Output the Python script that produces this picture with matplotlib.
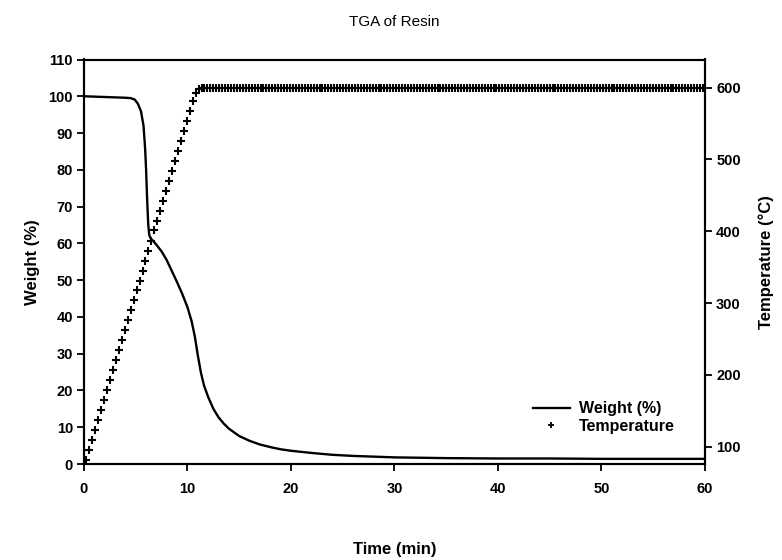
import matplotlib
matplotlib.use("Agg")
import matplotlib.pyplot as plt
from matplotlib.lines import Line2D

plt.rcParams['font.family'] = ['Liberation Sans', 'DejaVu Sans']

# ---- data ----
weight_time = [0.0, 1.0, 2.0, 3.0, 4.0, 4.5, 4.9, 5.2, 5.5, 5.75, 5.9, 6.0, 6.1, 6.2, 6.3,
               6.45, 6.7, 7.0, 7.5, 8.0, 8.5, 9.0, 9.5, 10.0, 10.4, 10.7, 11.0, 11.3, 11.6,
               12.0, 12.5, 13.0, 13.5, 14.0, 15.0, 16.0, 17.0, 18.0, 19.0, 20.0, 22.0, 24.0,
               26.0, 28.0, 30.0, 35.0, 40.0, 45.0, 50.0, 55.0, 60.0]
weight_pct = [100.0, 99.9, 99.8, 99.7, 99.6, 99.5, 99.1, 98.0, 96.0, 92.0, 86.0, 80.0, 72.0,
              65.5, 62.3, 61.3, 60.6, 59.6, 57.8, 55.4, 52.4, 49.4, 46.2, 42.6, 38.8, 34.8,
              29.5, 24.8, 21.3, 18.2, 15.0, 12.7, 11.0, 9.6, 7.6, 6.3, 5.3, 4.6, 4.0, 3.6,
              3.0, 2.5, 2.2, 2.0, 1.8, 1.6, 1.5, 1.5, 1.4, 1.4, 1.4]

# temperature logged every ~0.285 min, ramp then isothermal hold
sample_start_min = 0.24
sample_interval_min = 0.285
temp_ramp = [82, 96, 110, 124, 137, 151, 165, 179, 193, 207, 221, 234, 248, 262, 276, 290,
             304, 318, 331, 345, 359, 373, 387, 401, 414, 428, 442, 456, 470, 484, 498, 511,
             525, 539, 553, 567, 581, 593, 598]
hold_temp = 600.0
n_hold = 171
temp_values = temp_ramp + [hold_temp] * n_hold
temp_time = [round(sample_start_min + sample_interval_min * i, 3) for i in range(len(temp_values))]

x_ticks = [0, 10, 20, 30, 40, 50, 60]
left_ticks = [0, 10, 20, 30, 40, 50, 60, 70, 80, 90, 100, 110]
right_ticks = [100, 200, 300, 400, 500, 600]

# ---- figure ----
fig = plt.figure(figsize=(7.82, 5.6), dpi=100)
ax = fig.add_axes([84/782, 1-464/560, (705-84)/782, (464-59.5)/560])
ax2 = ax.twinx()

ln, = ax.plot(weight_time, weight_pct, color='black', lw=1.7, zorder=3)
mk, = ax2.plot(temp_time, temp_values, ls='none', marker='+', ms=6, mew=1.5, color='black')

ax.set_xlim(0, 60)
ax.set_ylim(0, 110)
ax2.set_ylim(76, 639)

ax.set_xticks(x_ticks)
ax.set_yticks(left_ticks)
ax2.set_yticks(right_ticks)

for a in (ax, ax2):
    for s in a.spines.values():
        s.set_linewidth(1.5)
ax.tick_params(axis='x', direction='out', length=5, width=1.3, labelsize=10.5, pad=8)
ax.tick_params(axis='y', direction='out', length=5, width=1.3, labelsize=10.5, pad=3)
ax2.tick_params(axis='y', direction='out', length=5, width=1.3, labelsize=10.5, pad=3)
for lab in ax.get_xticklabels() + ax.get_yticklabels() + ax2.get_yticklabels():
    lab.set_fontweight('bold')

ax.set_xlabel('Time (min)', fontsize=12, fontweight='bold', labelpad=33)
ax.set_ylabel('Weight (%)', fontsize=12, fontweight='bold', labelpad=6)
ax2.set_ylabel('Temperature (°C)', fontsize=12, fontweight='bold', labelpad=13)
fig.text(394.5/782, 1-22/560, 'TGA of Resin', ha='center', va='center', fontsize=11)

handles = [Line2D([0], [0], color='black', lw=1.7),
           Line2D([0], [0], ls='none', marker='+', ms=5, mew=1.3, color='black')]
leg = ax.legend(handles, ['Weight (%)', 'Temperature'], loc='lower right',
                bbox_to_anchor=(0.952, 0.075), borderaxespad=0, borderpad=0,
                frameon=False, handlelength=2.3, handletextpad=0.6, labelspacing=0.15,
                prop={'weight': 'bold', 'size': 11.5})

fig.savefig('out.png', dpi=100)
